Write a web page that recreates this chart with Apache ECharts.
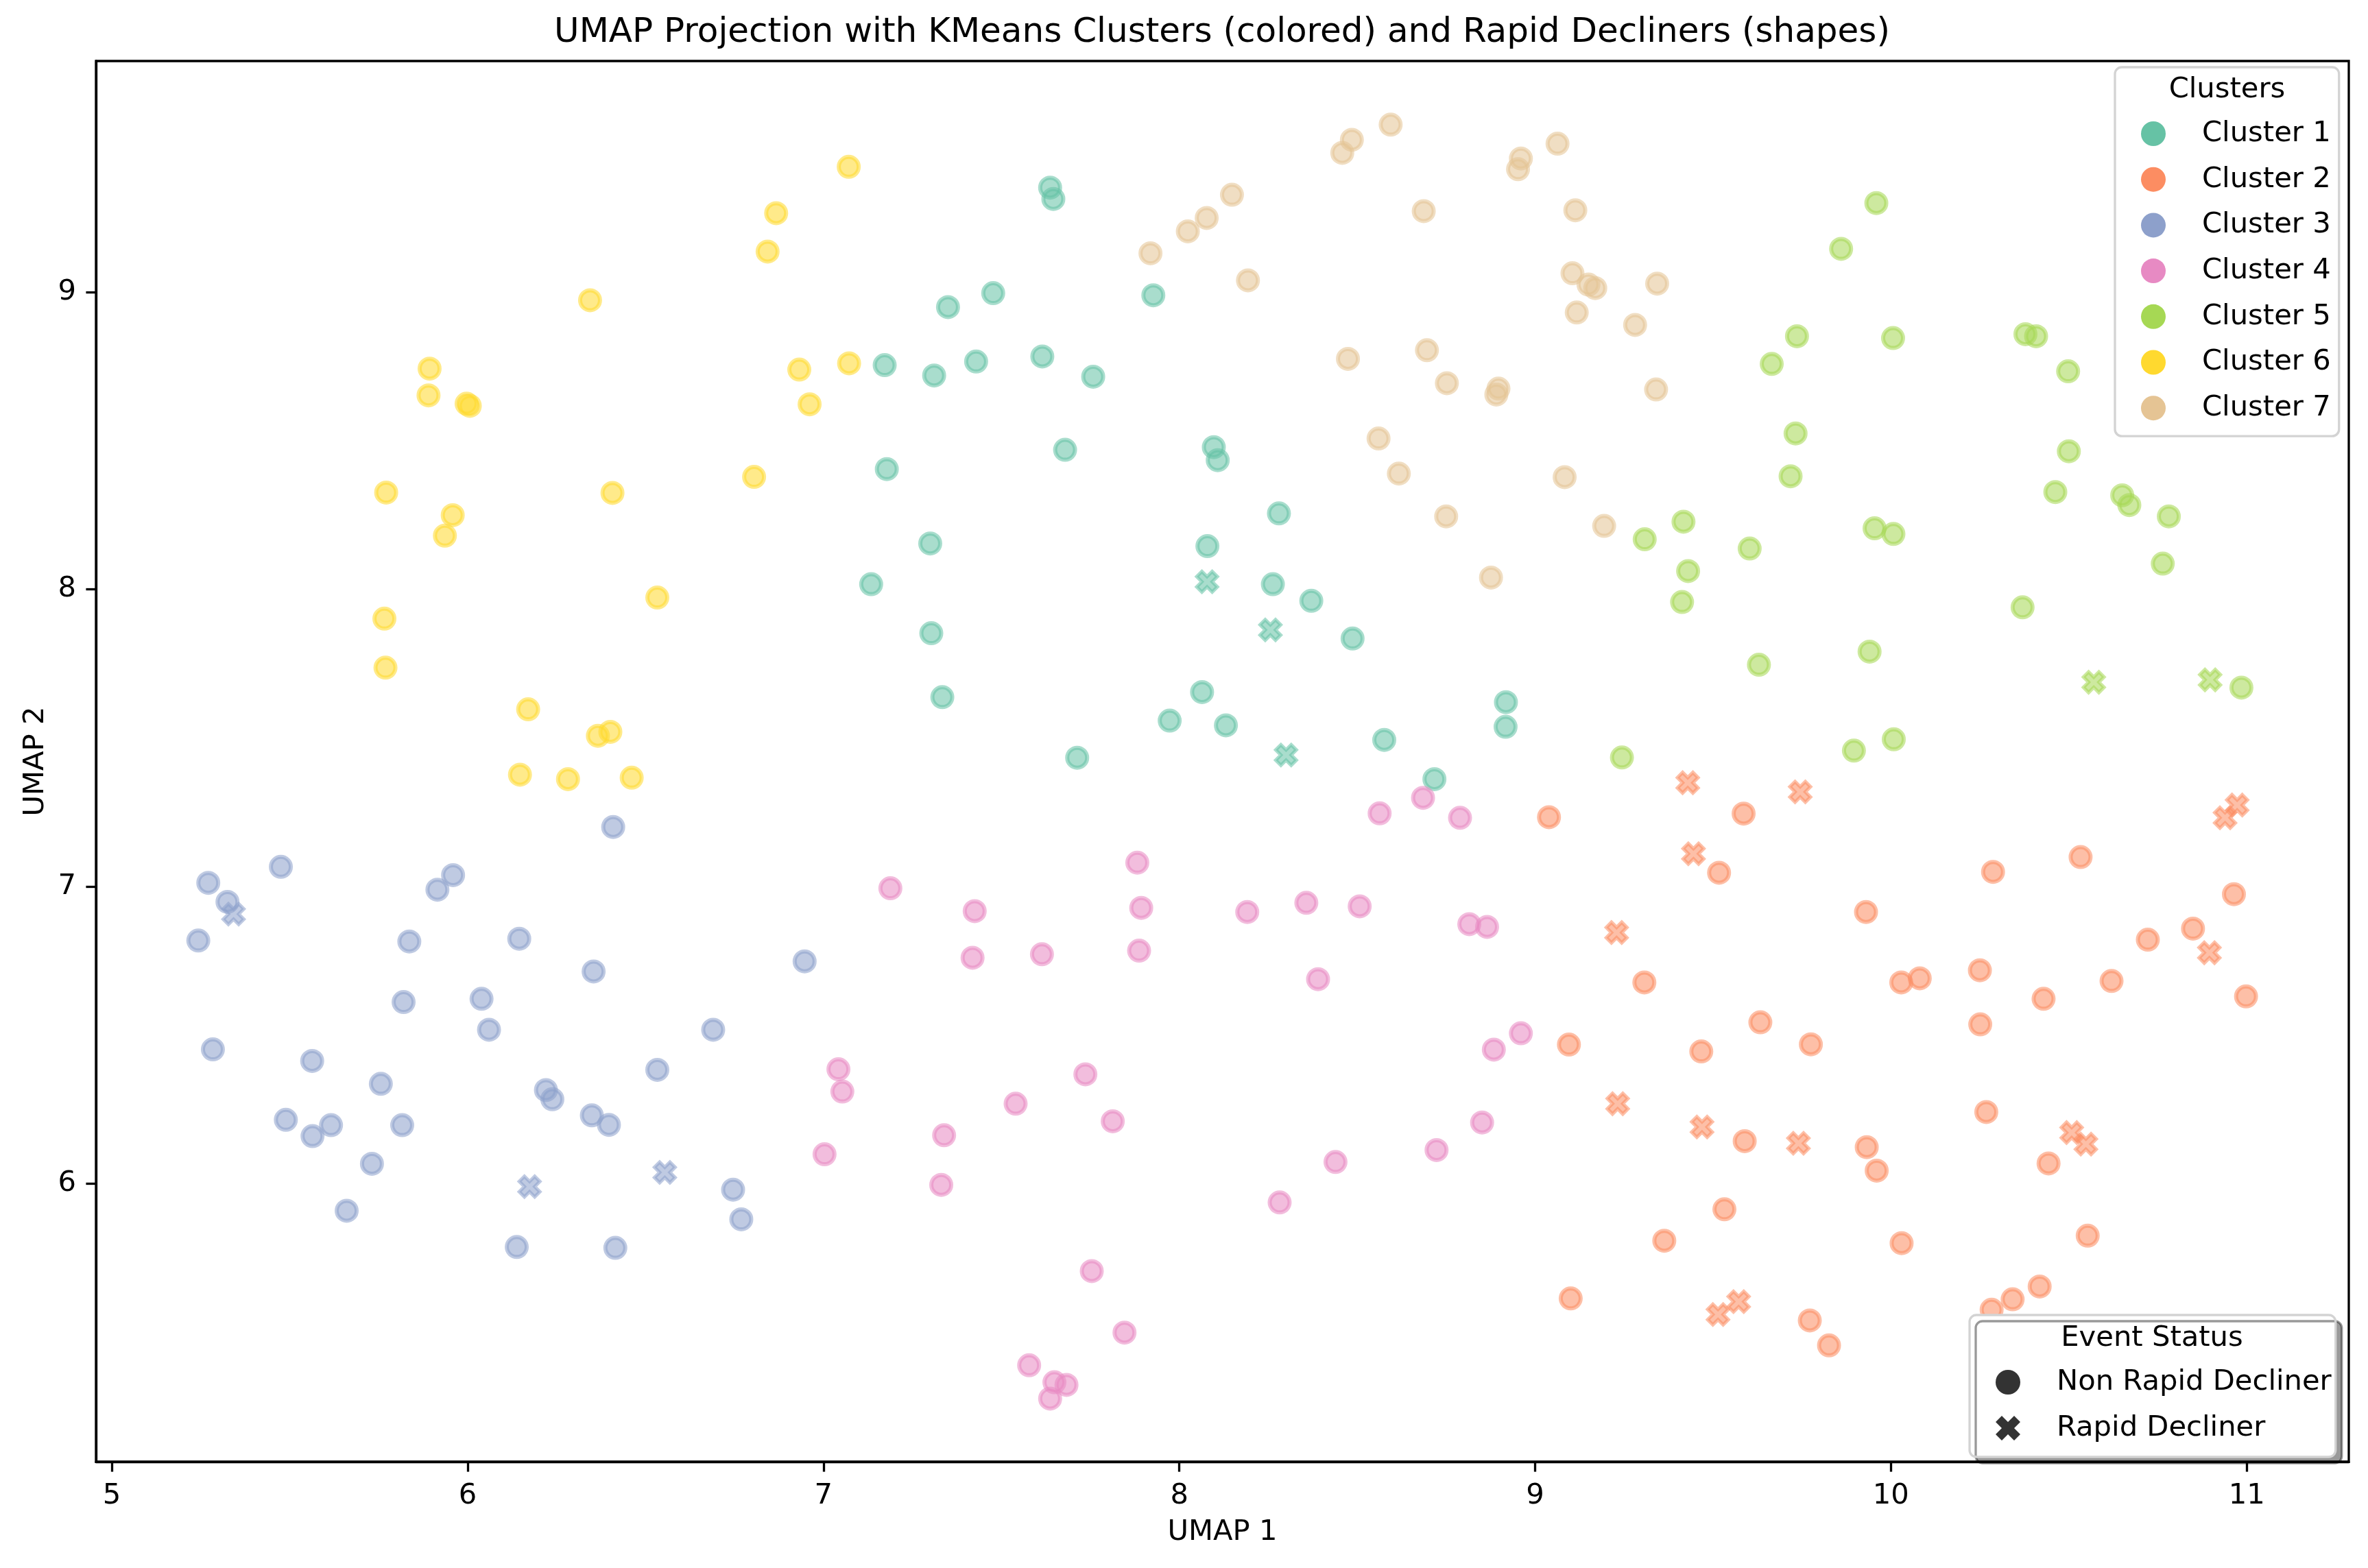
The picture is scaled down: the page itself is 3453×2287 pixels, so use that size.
<!DOCTYPE html>
<html>
<head>
<meta charset="utf-8">
<script src="https://cdn.jsdelivr.net/npm/echarts@6/dist/echarts.min.js"></script>
<style>
html,body{margin:0;padding:0;background:#ffffff;}
#chart{width:3453px;height:2287px;}
</style>
</head>
<body>
<div id="chart"></div>
<script>
// ---------------- DATA ----------------
const clusterNames = ['Cluster 1','Cluster 2','Cluster 3','Cluster 4','Cluster 5','Cluster 6','Cluster 7'];
const statusNames = ['Non Rapid Decliner','Rapid Decliner'];
const xTicks = [5,6,7,8,9,10,11];
const yTicks = [6,7,8,9];

// [UMAP 1, UMAP 2] — non rapid decliners (circles) and rapid decliners (X) per cluster
const cluster1 = [[7.637,9.351],[7.646,9.313],[7.350,8.949],[7.477,8.996],[7.172,8.754],[7.311,8.719],[7.429,8.766],[7.615,8.783],[7.758,8.715],[7.927,8.989],[7.679,8.469],[7.178,8.404],[8.097,8.478],[8.108,8.434],[7.300,8.154],[7.134,8.017],[7.303,7.852],[7.334,7.637],[8.079,8.145],[8.064,7.654],[7.973,7.558],[8.131,7.542],[7.713,7.433],[8.280,8.255],[8.263,8.017],[8.371,7.961],[8.487,7.834],[8.918,7.620],[8.917,7.537],[8.576,7.493],[8.717,7.361]];
const cluster1Rapid = [[8.078,8.025],[8.256,7.863],[8.300,7.442]];

const cluster2 = [[9.039,7.233],[9.586,7.245],[9.517,7.046],[9.307,6.677],[9.633,6.543],[9.095,6.468],[9.467,6.445],[9.589,6.143],[9.532,5.914],[9.363,5.808],[9.100,5.614],[10.533,7.099],[10.287,7.049],[10.964,6.974],[9.930,6.914],[10.849,6.858],[10.722,6.821],[10.998,6.630],[10.029,6.677],[10.081,6.691],[10.250,6.718],[10.620,6.682],[10.429,6.622],[10.251,6.536],[9.775,6.469],[10.268,6.241],[9.932,6.123],[9.960,6.044],[10.443,6.068],[10.553,5.825],[10.030,5.800],[10.418,5.654],[10.342,5.611],[10.283,5.576],[9.772,5.540],[9.826,5.456]];
const cluster2Rapid = [[9.429,7.349],[9.445,7.110],[9.229,6.845],[9.232,6.269],[9.469,6.191],[9.514,5.560],[9.572,5.603],[9.745,7.318],[10.973,7.274],[10.939,7.231],[10.895,6.777],[9.740,6.136],[10.508,6.172],[10.548,6.133]];

const cluster3 = [[6.409,7.200],[5.271,7.012],[5.325,6.948],[5.475,7.066],[5.243,6.818],[5.959,7.038],[5.915,6.989],[5.836,6.815],[6.145,6.824],[6.354,6.714],[5.820,6.611],[6.039,6.622],[6.060,6.518],[5.284,6.452],[5.563,6.413],[6.533,6.383],[5.756,6.336],[5.489,6.215],[5.616,6.197],[5.564,6.160],[5.816,6.197],[6.220,6.315],[6.238,6.284],[6.349,6.230],[6.397,6.198],[5.731,6.067],[5.660,5.909],[6.138,5.787],[6.415,5.784],[6.947,6.748],[6.690,6.518],[6.746,5.980],[6.769,5.880]];
const cluster3Rapid = [[5.342,6.907],[6.174,5.990],[6.554,6.038]];

const cluster4 = [[7.188,6.994],[7.425,6.917],[7.419,6.760],[7.614,6.772],[7.882,7.080],[7.893,6.928],[7.887,6.784],[7.042,6.385],[7.053,6.310],[7.736,6.368],[7.540,6.269],[7.813,6.210],[7.339,6.163],[7.003,6.099],[7.331,5.996],[7.754,5.706],[7.846,5.499],[7.578,5.389],[7.649,5.332],[7.683,5.323],[7.637,5.277],[8.563,7.246],[8.685,7.298],[8.789,7.231],[8.191,6.914],[8.357,6.945],[8.507,6.933],[8.815,6.873],[8.865,6.864],[8.390,6.688],[8.960,6.506],[8.884,6.451],[8.851,6.206],[8.723,6.113],[8.439,6.073],[8.282,5.937]];
const cluster4Rapid = [];

const cluster5 = [[9.665,8.758],[9.718,8.380],[9.417,8.227],[9.308,8.168],[9.603,8.137],[9.430,8.061],[9.413,7.957],[9.629,7.746],[9.244,7.434],[9.959,9.299],[9.860,9.145],[9.736,8.851],[10.006,8.845],[10.378,8.858],[10.408,8.851],[10.498,8.733],[9.732,8.524],[10.500,8.464],[10.462,8.327],[10.650,8.316],[10.670,8.283],[10.781,8.245],[9.954,8.205],[10.007,8.186],[10.764,8.086],[10.370,7.939],[9.940,7.790],[10.985,7.669],[10.008,7.495],[9.896,7.457]];
const cluster5Rapid = [[10.570,7.687],[10.897,7.695]];

const cluster6 = [[6.344,8.972],[5.893,8.742],[5.890,8.652],[5.997,8.624],[6.006,8.617],[5.771,8.325],[6.407,8.324],[5.958,8.249],[5.936,8.180],[6.533,7.972],[5.766,7.901],[5.769,7.736],[6.170,7.596],[6.366,7.507],[6.401,7.520],[6.147,7.376],[6.282,7.361],[6.461,7.366],[7.071,9.421],[6.867,9.265],[6.843,9.136],[6.932,8.739],[7.072,8.760],[6.961,8.622],[6.805,8.378]];
const cluster6Rapid = [];

const cluster7 = [[7.919,9.130],[8.024,9.204],[8.077,9.249],[8.148,9.327],[8.485,9.512],[8.458,9.468],[8.594,9.563],[8.960,9.449],[8.952,9.413],[9.063,9.499],[8.687,9.272],[9.113,9.275],[8.193,9.039],[9.105,9.063],[9.150,9.025],[9.169,9.013],[9.343,9.028],[9.117,8.931],[9.281,8.889],[8.474,8.775],[8.696,8.804],[8.752,8.693],[8.897,8.675],[8.891,8.655],[9.340,8.672],[8.560,8.507],[8.617,8.389],[9.083,8.377],[8.750,8.245],[9.194,8.213],[8.876,8.039]];
const cluster7Rapid = [];

// ---------------- STYLE ----------------
const FONT = 'DejaVu Sans';
const palette = [[102,194,165],[252,141,98],[141,160,203],[231,138,195],[166,216,84],[255,217,47],[229,196,148]];
const rgba = (c,a) => 'rgba(' + c[0] + ',' + c[1] + ',' + c[2] + ',' + a + ')';
const XPATH = 'path://M6,0L8,2L6,4L8,6L6,8L4,6L2,8L0,6L2,4L0,2L2,0L4,2Z';

const circleSets = [cluster1, cluster2, cluster3, cluster4, cluster5, cluster6, cluster7];
const rapidSets = [cluster1Rapid, cluster2Rapid, cluster3Rapid, cluster4Rapid, cluster5Rapid, cluster6Rapid, cluster7Rapid];

const series = [];
for (let k = 0; k < 7; k++) {
  series.push({
    type: 'scatter', name: clusterNames[k], data: circleSets[k],
    symbol: 'circle', symbolSize: 29, z: 2,
    itemStyle: { color: rgba(palette[k], 0.7), borderColor: rgba(palette[k], 0.7), borderWidth: 6 },
    emphasis: { disabled: true }
  });
  series.push({
    type: 'scatter', name: clusterNames[k], data: rapidSets[k],
    symbol: XPATH, symbolSize: 30, z: 2,
    itemStyle: { color: rgba(palette[k], 0.7), borderColor: rgba(palette[k], 0.7), borderWidth: 5 },
    emphasis: { disabled: true }
  });
}
series.push({ type: 'scatter', name: statusNames[0], data: [], symbol: 'circle', itemStyle: { color: '#000' } });
series.push({ type: 'scatter', name: statusNames[1], data: [], symbol: XPATH, itemStyle: { color: '#000' } });

const legendText = { fontFamily: FONT, fontSize: 41.7, color: '#000', lineHeight: 36, padding: [0, 0, 0, 48] };

const option = {
  animation: false,
  backgroundColor: '#ffffff',
  title: {
    text: 'UMAP Projection with KMeans Clusters (colored) and Rapid Decliners (shapes)',
    left: 1782, top: 23, textAlign: 'center', padding: 0,
    textStyle: { fontFamily: FONT, fontSize: 50, fontWeight: 'normal', color: '#000', lineHeight: 50 }
  },
  grid: {
    left: 140, right: 28, top: 89, bottom: 155,
    show: true, borderColor: '#000', borderWidth: 3.3, backgroundColor: 'transparent',
    containLabel: false, outerBoundsMode: 'none'
  },
  xAxis: {
    type: 'value', min: 4.9555, max: 11.2868,
    name: 'UMAP 1', nameLocation: 'middle', nameGap: 82,
    nameTextStyle: { fontFamily: FONT, fontSize: 41.7, color: '#000', lineHeight: 42 },
    axisLine: { show: true, onZero: false, lineStyle: { color: '#000', width: 3.3 } },
    axisTick: { show: true, length: 14.6, inside: false, customValues: xTicks, lineStyle: { color: '#000', width: 3.3 } },
    axisLabel: { customValues: xTicks, margin: 29, fontFamily: FONT, fontSize: 41.7, color: '#000' },
    splitLine: { show: false }
  },
  yAxis: {
    type: 'value', min: 5.0646, max: 9.777,
    name: 'UMAP 2', nameLocation: 'middle', nameGap: 64, nameRotate: 90,
    nameTextStyle: { fontFamily: FONT, fontSize: 41.7, color: '#000', lineHeight: 42 },
    axisLine: { show: true, onZero: false, lineStyle: { color: '#000', width: 3.3 } },
    axisTick: { show: true, length: 14.6, inside: false, customValues: yTicks, lineStyle: { color: '#000', width: 3.3 } },
    axisLabel: { customValues: yTicks, margin: 29, fontFamily: FONT, fontSize: 41.7, color: '#000' },
    splitLine: { show: false }
  },
  legend: [
    {
      data: clusterNames.map((n, k) => ({ name: n, icon: 'circle', itemStyle: { color: rgba(palette[k], 1), borderWidth: 0, opacity: 1 } })),
      orient: 'vertical', left: 3084, top: 98,
      itemWidth: 36, itemHeight: 36, itemGap: 24.7,
      padding: [76, 12, 20, 38],
      backgroundColor: 'rgba(255,255,255,0.8)', borderColor: '#d3d3d3', borderWidth: 3.3, borderRadius: 10,
      selectedMode: false,
      itemStyle: { borderWidth: 0 },
      textStyle: legendText
    },
    {
      data: [
        { name: statusNames[0], icon: 'circle', itemStyle: { color: '#000', borderWidth: 0 } },
        { name: statusNames[1], icon: XPATH, itemStyle: { color: '#000', borderWidth: 0 } }
      ],
      orient: 'vertical', left: 2872, top: 1918,
      itemWidth: 36, itemHeight: 36, itemGap: 25,
      padding: [77, 6, 21, 38],
      backgroundColor: '#ffffff', borderColor: '#d3d3d3', borderWidth: 3.3, borderRadius: 10,
      shadowColor: 'rgba(0,0,0,0.4)', shadowBlur: 0, shadowOffsetX: 9, shadowOffsetY: 9,
      selectedMode: false,
      itemStyle: { borderWidth: 0 },
      textStyle: legendText
    }
  ],
  graphic: [
    { type: 'text', z: 100, x: 3247.5, y: 131, style: { text: 'Clusters', fontFamily: FONT, fontSize: 41.7, fill: '#000', align: 'center', verticalAlign: 'middle' } },
    { type: 'text', z: 100, x: 3138, y: 1952, style: { text: 'Event Status', fontFamily: FONT, fontSize: 41.7, fill: '#000', align: 'center', verticalAlign: 'middle' } }
  ],
  series: series
};

const chart = echarts.init(document.getElementById('chart'), null, { renderer: 'canvas', width: 3453, height: 2287 });
chart.setOption(option);
</script>
</body>
</html>
